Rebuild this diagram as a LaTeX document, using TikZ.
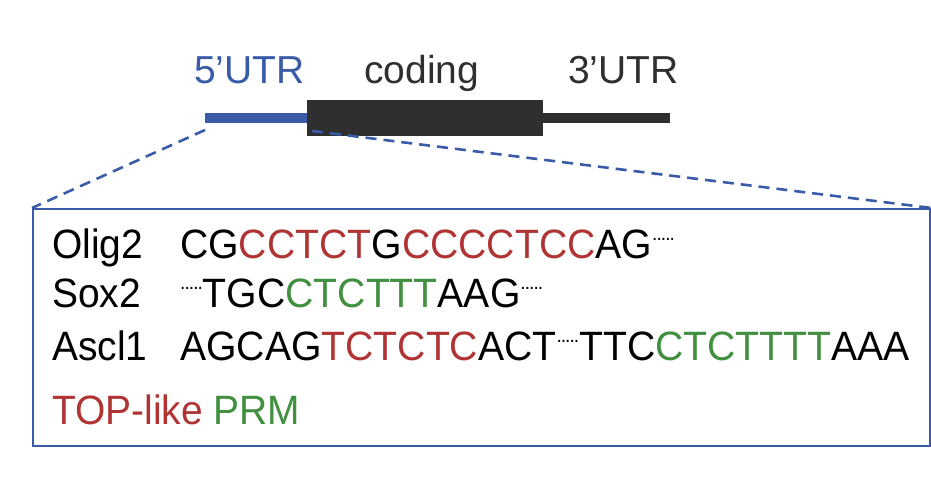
\documentclass[tikz,border=0pt]{standalone}
\usepackage{fontspec}
\setmainfont{Liberation Sans}
\definecolor{myblue}{HTML}{3A5BA8}
\definecolor{myred}{HTML}{B03434}
\definecolor{mygreen}{HTML}{409040}
\definecolor{mydark}{HTML}{2F2F2F}
\newcommand{\R}[1]{\textcolor{myred}{#1}}
\newcommand{\G}[1]{\textcolor{mygreen}{#1}}
\newcommand{\dts}{\raisebox{0.42em}{\fontsize{20}{20}\selectfont.\kern-1pt.\kern-1pt.\kern-1pt.\kern-1pt.}}
\begin{document}
\begin{tikzpicture}[x=1pt,y=-1pt,
  seq/.style={anchor=base west,inner sep=0pt,font=\fontsize{41}{44}\selectfont},
  lab/.style={anchor=base west,inner sep=0pt,font=\fontsize{39}{42}\selectfont},
  conn/.style={myblue,line width=2.6pt,dash pattern=on 11pt off 7pt}]
\useasboundingbox (0,0) rectangle (931,490);
% gene
\draw[myblue,line width=10pt] (205,118) -- (308,118);
\draw[mydark,line width=10pt] (540,118) -- (670,118);
\node[fill=mydark,minimum width=236pt,minimum height=36pt,inner sep=0pt,anchor=north west] (cds) at (307,100) {};
\coordinate (a) at (205,130);
\coordinate (b) at (312,131);
\node[lab,text=myblue] (u5) at (194,83) {\scalebox{1.0}[1]{5’UTR}};
\node[lab,text=mydark] (cd) at (364,83) {\scalebox{1.0}[1]{coding}};
\node[lab,text=mydark] (u3) at (568,83) {\scalebox{1.0}[1]{3’UTR}};
% box
\node[draw=myblue,line width=2.4pt,minimum width=897pt,minimum height=237pt,inner sep=0pt,anchor=north west] (box) at (32,208) {};
\draw[conn] (a) -- (box.north west);
\draw[conn] (b) -- (box.north east);
\node[seq] (l1) at (52,258) {\scalebox{0.95}[1]{Olig2}};
\node[seq] (l2) at (52,307) {\scalebox{0.95}[1]{Sox2}};
\node[seq] (l3) at (52,360) {\scalebox{0.95}[1]{Ascl1}};
\node[seq] (s1) at (180,258) {\scalebox{0.955}[1]{CG\R{CCTCT}G\R{CCCCTCC}AG\dts}};
\node[seq] (s2) at (180,307) {\scalebox{0.955}[1]{\dts TGC\G{CTCTTT}AAG\dts}};
\node[seq] (s3) at (180,360) {\scalebox{0.955}[1]{AGCAG\R{TCTCTC}ACT\dts TTC\G{CTCTTTT}AAA}};
\node[seq] (leg) at (52,424) {\scalebox{0.95}[1]{\R{TOP-like} \G{PRM}}};
\end{tikzpicture}
\end{document}
